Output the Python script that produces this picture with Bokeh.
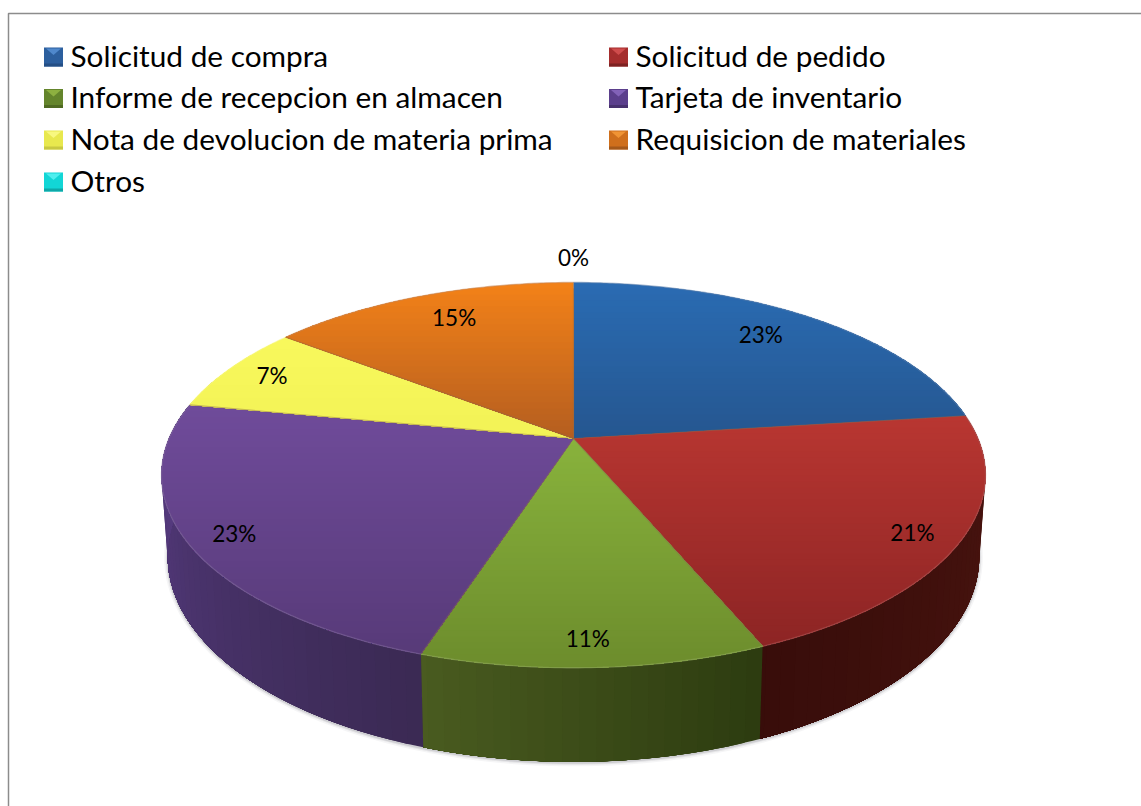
import numpy as np
from bokeh.plotting import figure
from bokeh.models import Range1d, ColumnDataSource
from bokeh.core.properties import value
from bokeh.embed import file_html
from bokeh.resources import INLINE

# ---- data ----
categories = ["Solicitud de compra", "Solicitud de pedido", "Informe de recepcion en almacen",
              "Tarjeta de inventario", "Nota de devolucion de materia prima",
              "Requisicion de materiales", "Otros"]
shares = [23.0, 20.7, 11.3, 23.0, 7.4, 14.6, 0.0]

# ---- styles ----
top_start = ["#2a6bb2", "#b83631", "#88b23c", "#6f4b9a", "#f8f85c", "#f28118", "#10d8d8"]
top_end   = ["#25568f", "#8c2424", "#6c8c2c", "#573a78", "#f2f256", "#b35d20", "#10d8d8"]
wall_start = ["#1c3a60", "#4c1510", "#2d3c10", "#3b2a54", "#8f8f30", "#8a4a10", "#108080"]
wall_end   = ["#1c3a60", "#380d0a", "#4a5c20", "#5a3d86", "#8f8f30", "#8a4a10", "#108080"]
sw_base = ["#2c5f9e", "#a52d2d", "#64852c", "#5b3f8c", "#e8e84e", "#cf6f1c", "#12d6d6"]
sw_top  = ["#4f88cc", "#cf4c4c", "#8db040", "#8262b8", "#f8f880", "#f09434", "#50eeee"]
sw_dark = ["#244f85", "#7d2222", "#4f6a22", "#47316e", "#c8c842", "#a5591a", "#0ea8a8"]
label_fx = [0.80, 0.876, 0.70, 0.88, 0.88, 0.78, 1.16]
label_fy = [0.85, 0.91, 0.873, 0.91, 0.90, 0.85, 1.16]
FONT = "Lato"
LEGEND_PX = "29.8px"
LABEL_PX = "22.5px"

# ---- pie geometry (page pixels) ----
CX, CY, A, B, K = 573.0, 438.0, 404.5, 185.7, 0.19
SHRINK, DROP = 0.985, 79.0


def project(t, level=0.0):
    """t in degrees clockwise from the back; level 0 is the top face, 1 the floor."""
    r = np.radians(t)
    w = 1 + K * np.cos(r)
    s = 1 - (1 - SHRINK) * level
    return CX + s * A * np.sin(r) / w, CY - s * B * np.cos(r) / w + level * DROP / w


def hex2rgb(c):
    return np.array([int(c[i:i + 2], 16) for i in (1, 3, 5)], float)


def mix(c0, c1, f):
    v = hex2rgb(c0) * (1 - f) + hex2rgb(c1) * f
    return "#%02x%02x%02x" % tuple(int(round(x)) for x in v)


def clip_below(xs, ys, y0):
    """Keep the part of a polygon with y >= y0."""
    ox, oy = [], []
    n = len(xs)
    for i in range(n):
        x1, y1, x2, y2 = xs[i], ys[i], xs[(i + 1) % n], ys[(i + 1) % n]
        if y1 >= y0:
            ox.append(x1); oy.append(y1)
        if (y1 >= y0) != (y2 >= y0):
            f = (y0 - y1) / (y2 - y1)
            ox.append(x1 + f * (x2 - x1)); oy.append(y0)
    return ox, oy


p = figure(width=1141, height=806, output_backend="svg", toolbar_location=None,
           x_range=Range1d(0, 1141), y_range=Range1d(806, 0), min_border=0)
p.axis.visible = False
p.grid.visible = False
p.outline_line_color = None
p.background_fill_color = "white"
p.border_fill_color = "white"

# frame
p.line([8, 8, 1141], [806, 13, 13], line_color="#8c8c8c", line_width=1.5)

# slice angles
edges = np.concatenate([[0.0], np.cumsum(shares)]) / sum(shares) * 360.0

# soft shadow under the wall
ts = np.linspace(72, 288, 120)
sx, sy = project(ts, 1.0)
for width, alpha in [(7, 0.06), (4, 0.10), (2, 0.16)]:
    p.line(sx, sy + 1, line_color="#555566", line_width=width, line_alpha=alpha)

# walls: each strip runs a little under the next, painted in order, so no seams show
for i, _ in enumerate(shares):
    lo, hi = max(edges[i], 70.0), min(edges[i + 1], 290.0)
    if hi <= lo:
        continue
    steps = np.arange(lo, hi, 2.0).tolist() + [hi]
    xs, ys, cols = [], [], []
    for a in steps[:-1]:
        seg = np.linspace(a, hi, 40)
        x0, y0 = project(seg, 0.0)
        x1, y1 = project(seg, 1.0)
        xs.append(np.concatenate([x0, x1[::-1]]).tolist())
        ys.append(np.concatenate([y0, y1[::-1]]).tolist())
        cols.append(mix(wall_start[i], wall_end[i], (a - lo) / (hi - lo)))
    p.patches("xs", "ys", source=ColumnDataSource(dict(xs=xs, ys=ys, c=cols)),
              fill_color="c", line_color=None)

# top faces with a vertical gradient
for i, v in enumerate(shares):
    if v <= 0:
        continue
    arc = np.linspace(edges[i], edges[i + 1], max(8, int(edges[i + 1] - edges[i]) * 2))
    ax, ay = project(arc)
    px = [CX] + ax.tolist()
    py = [CY] + ay.tolist()
    ymin, ymax = min(py), max(py)
    xs, ys, cols = [], [], []
    for y0 in np.arange(ymin, ymax, 6.0):
        cx, cy = clip_below(px, py, y0)
        if len(cx) >= 3:
            xs.append(cx); ys.append(cy)
            cols.append(mix(top_start[i], top_end[i], (y0 - ymin) / (ymax - ymin)))
    p.patches("xs", "ys", source=ColumnDataSource(dict(xs=xs, ys=ys, c=cols)),
              fill_color="c", line_color=None)

# rim highlight and slice seams
for i, v in enumerate(shares):
    if v <= 0:
        continue
    arc = np.linspace(edges[i], edges[i + 1], 60)
    ax, ay = project(arc)
    p.line(ax, ay, line_color=mix(top_end[i], "#ffffff", 0.25), line_width=1.3, line_alpha=0.55)
    ex, ey = project(edges[i])
    p.line([CX, ex], [CY, ey], line_color="#8a6a50", line_width=1.2, line_alpha=0.45)

# data labels
mids = (edges[:-1] + edges[1:]) / 2
lx, ly = [], []
for m, fx, fy in zip(mids, label_fx, label_fy):
    r = np.radians(m)
    w = 1 + K * np.cos(r)
    lx.append(CX + fx * A * np.sin(r) / w)
    ly.append(CY - fy * B * np.cos(r) / w)
lt = ["%d%%" % round(v) for v in shares]
p.text(lx, ly, text=lt, text_font=value(FONT), text_font_size=value(LABEL_PX), text_color="#000000",
       text_align="center", text_baseline="middle")

# legend: two columns, filled row by row
SW = 19.0
COL_X = [43.5, 608.5]
ROW_Y = [56.5, 98.0, 139.5, 181.5]
TEXT_GAP = 26.5
for i, name in enumerate(categories):
    x = COL_X[i % 2]
    yc = ROW_Y[i // 2]
    p.quad(left=x, right=x + SW, top=yc - SW / 2, bottom=yc + SW / 2,
           fill_color=sw_base[i], line_color=None)
    p.quad(left=x, right=x + SW, top=yc + SW / 2 - 3, bottom=yc + SW / 2,
           fill_color=sw_dark[i], line_color=None)
    p.patch([x + 2, x + SW - 2, x + SW / 2], [yc - SW / 2 + 1, yc - SW / 2 + 1, yc - 2],
            fill_color=sw_top[i], line_color=None)
    p.text([x + TEXT_GAP], [yc - 2], text=[name], text_font=value(FONT), text_font_size=value(LEGEND_PX),
           text_color="#000000", text_align="left", text_baseline="middle")

html = file_html(p, INLINE).replace("<body>", '<body style="margin:0">', 1)
open("out.html", "w").write(html)
